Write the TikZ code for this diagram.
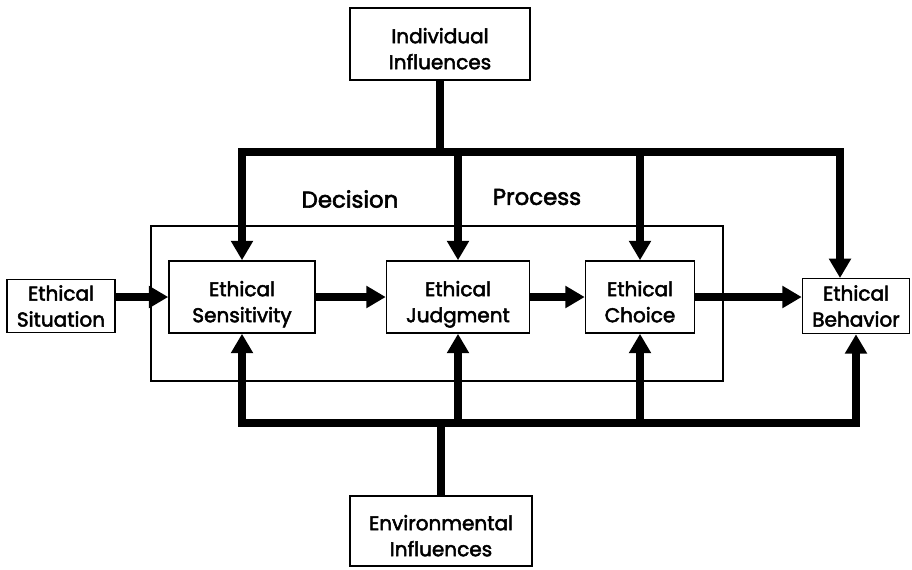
\documentclass[tikz,border=0pt]{standalone}
\usepackage{fontspec}
\setmainfont{Poppins}[BoldFont=Poppins, BoldFeatures={FakeBold=2.5}]
\usetikzlibrary{arrows.meta}

% two centred lines, set a little below the middle of the box
\newcommand{\lowpair}[2]{\raisebox{-4pt}[\height][\depth]{\begin{tabular}{@{}c@{}}#1\\#2\end{tabular}}}

\tikzset{
	box/.style={draw, line width=0.9pt, align=center, inner sep=0pt, font=\bfseries\fontsize{11.4}{14.8}\selectfont},
	lbl/.style={font=\bfseries\fontsize{13}{15}\selectfont},
	bus/.style={line width=4.3pt},
	flow/.style={line width=4.6pt, -{Triangle[length=11pt,width=12pt]}}
}

\begin{document}
\begin{tikzpicture}[x=0.02cm,y=-0.02cm]
	\useasboundingbox (0,0) rectangle (912,569);

	% outer frame of the decision process
	\draw[line width=0.9pt] (151,226) rectangle (723,381);
	\node[lbl] (dec) at (350,199) {Decision};
	\node[lbl] (proc) at (537,197) {Process};

	\node[box, minimum width=3.6cm, minimum height=1.44cm] (ind) at (440,44) {\lowpair{Individual}{Influences}};
	\node[box, minimum width=3.64cm, minimum height=1.4cm] (env) at (441,531) {\lowpair{Environmental}{Influences}};

	\node[box, minimum width=2.16cm, minimum height=1.06cm] (sit) at (61,306) {Ethical\\Situation};
	\node[box, minimum width=2.92cm, minimum height=1.44cm] (sens) at (242,297) {\lowpair{Ethical}{Sensitivity}};
	\node[box, minimum width=2.86cm, minimum height=1.44cm] (judg) at (458,297) {\lowpair{Ethical}{Judgment}};
	\node[box, minimum width=2.18cm, minimum height=1.44cm] (choi) at (640,297) {\lowpair{Ethical}{Choice}};
	\node[box, minimum width=2.14cm, minimum height=1.1cm] (beh) at (856,306) {Ethical\\Behavior};

	\coordinate (top) at (440,152);
	\coordinate (bot) at (441,423);
	\coordinate (behin) at (840,278);

	% individual influences
	\draw[bus] (ind.south) -- (top);
	\draw[flow] (top) -- (top -| sens.north) -- (sens.north);
	\draw[flow] (top) -- (top -| behin) -- (behin);
	\draw[flow] (top -| judg.north) -- (judg.north);
	\draw[flow] (top -| choi.north) -- (choi.north);

	% environmental influences
	\draw[bus] (env.north) -- (bot);
	\draw[flow] (bot) -- (bot -| sens.south) -- (sens.south);
	\draw[flow] (bot) -- (bot -| beh.south) -- (beh.south);
	\draw[flow] (bot -| judg.south) -- (judg.south);
	\draw[flow] (bot -| choi.south) -- (choi.south);

	% main chain
	\draw[flow] (sit.east |- sens) -- (sens.west);
	\draw[flow] (sens.east) -- (judg.west);
	\draw[flow] (judg.east) -- (choi.west);
	\draw[flow] (choi.east) -- (beh.west |- choi);
\end{tikzpicture}
\end{document}
